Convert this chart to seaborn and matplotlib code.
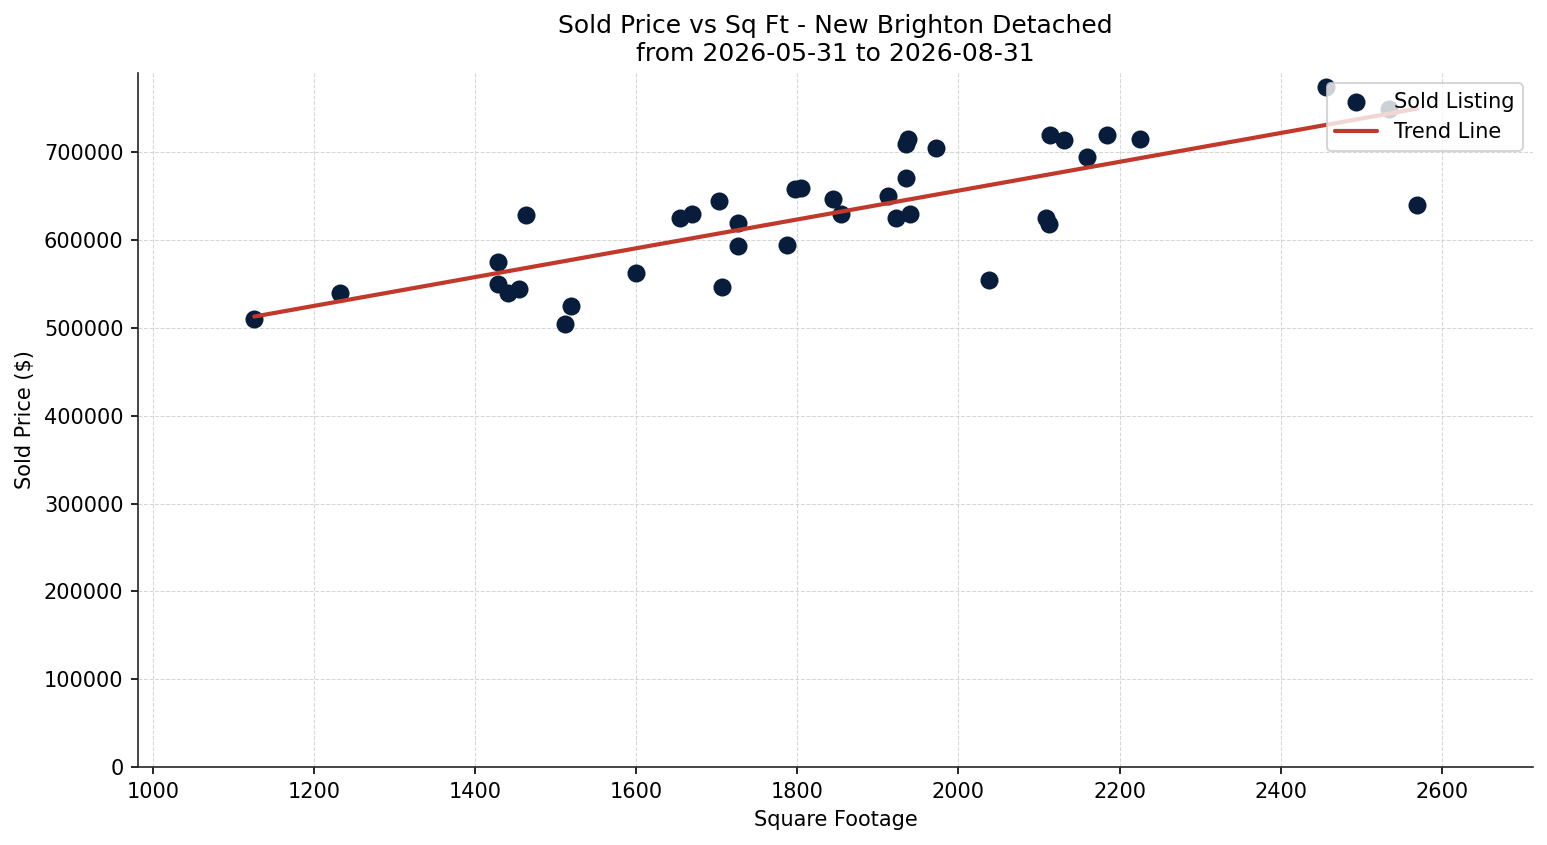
import numpy as np
import pandas as pd
import matplotlib
matplotlib.use("Agg")
import matplotlib.pyplot as plt
import seaborn as sns

# values
sqft = [1126, 1233, 1429, 1429, 1441, 1455, 1463, 1512, 1519, 1600,
        1655, 1669, 1703, 1706, 1727, 1727, 1787, 1797, 1805, 1844,
        1854, 1913, 1923, 1935, 1935, 1937, 1940, 1972, 2038, 2109,
        2112, 2114, 2131, 2160, 2185, 2225, 2456, 2535, 2569]
price = [510000, 540000, 575000, 550000, 540000, 544000, 629000, 505000, 525000, 563000,
         625000, 630000, 645000, 547000, 620000, 593000, 595000, 658000, 660000, 647000,
         630000, 650000, 625000, 671000, 710000, 715000, 630000, 705000, 555000, 625000,
         619000, 720000, 714000, 695000, 720000, 715000, 775000, 750000, 640000]

title = "Sold Price vs Sq Ft - New Brighton Detached\nfrom 2026-05-31 to 2026-08-31"

df = pd.DataFrame({"sqft": sqft, "price": price})

sns.set_style("ticks")
plt.rcParams["font.family"] = ["DejaVu Sans"]
plt.rcParams["text.color"] = "black"
plt.rcParams["axes.labelcolor"] = "black"

fig, ax = plt.subplots(figsize=(1547 / 150, 845 / 150), dpi=150)
fig.subplots_adjust(left=0.0892, right=0.991, top=0.9136, bottom=0.0923)

sns.scatterplot(data=df, x="sqft", y="price", ax=ax, color="#071d3b", s=75,
                linewidth=0, label="Sold Listing", zorder=3)

# trend line from a linear fit
m, b = np.polyfit(df["sqft"], df["price"], 1)
xs = np.array([df["sqft"].min(), df["sqft"].max()])
ax.plot(xs, m * xs + b, color="#c0392b", linewidth=2, label="Trend Line", zorder=4)

rng = df["sqft"].max() - df["sqft"].min()
ax.set_xlim(df["sqft"].min() - 0.1 * rng, df["sqft"].max() + 0.1 * rng)
ax.set_ylim(0, df["price"].max() * 1.02)

ax.grid(True, linestyle="--", linewidth=0.5, color="#cccccc", alpha=0.8)
ax.set_axisbelow(True)
sns.despine(ax=ax)

ax.tick_params(labelsize=10, colors="black")
ax.set_xlabel("Square Footage", fontsize=10, color="black")
ax.set_ylabel("Sold Price ($)", fontsize=10, color="black")
ax.set_title(title, fontsize=12, color="black")
leg = ax.legend(loc="upper right", fontsize=10)
for t in leg.get_texts():
    t.set_color("black")

fig.savefig("out.png", dpi=150)
